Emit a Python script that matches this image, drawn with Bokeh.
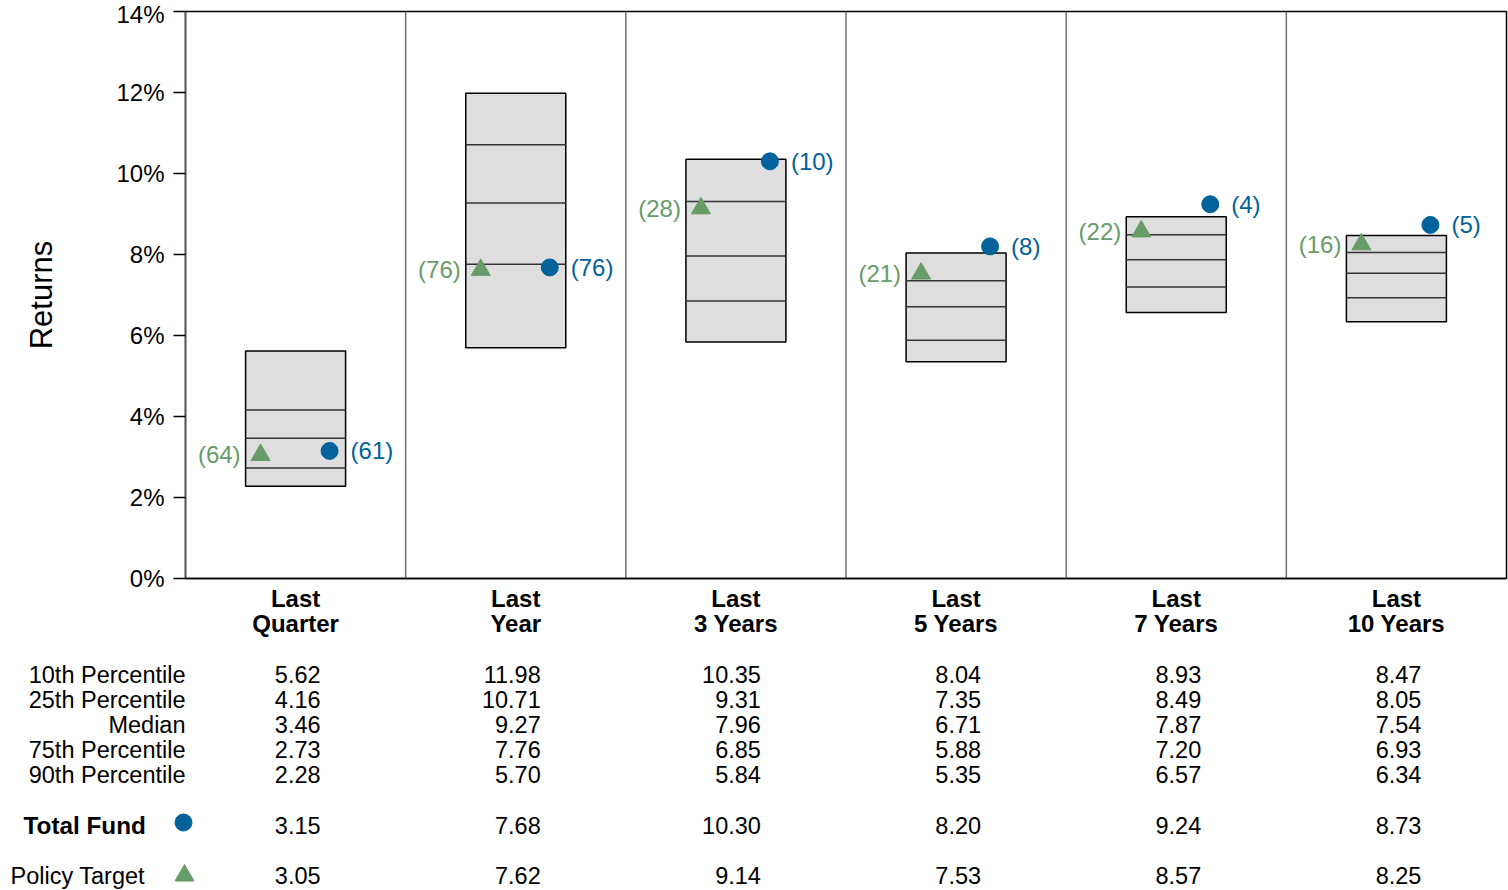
from bokeh.plotting import figure
from bokeh.models import Range1d, FixedTicker
from bokeh.layouts import column
from bokeh.embed import file_html
from bokeh.resources import INLINE
from bokeh.core.properties import value

# ---------------- data ----------------
categories = ["Last Quarter", "Last Year", "Last 3 Years", "Last 5 Years", "Last 7 Years", "Last 10 Years"]
p10 = [5.62, 11.98, 10.35, 8.04, 8.93, 8.47]
p25 = [4.16, 10.71, 9.31, 7.35, 8.49, 8.05]
median = [3.46, 9.27, 7.96, 6.71, 7.87, 7.54]
p75 = [2.73, 7.76, 6.85, 5.88, 7.20, 6.93]
p90 = [2.28, 5.70, 5.84, 5.35, 6.57, 6.34]
total_fund = [3.15, 7.68, 10.30, 8.20, 9.24, 8.73]
total_fund_rank = [61, 76, 10, 8, 4, 5]
policy_target = [3.05, 7.62, 9.14, 7.53, 8.57, 8.25]
policy_target_rank = [64, 76, 28, 21, 22, 16]
row_labels = ["10th Percentile", "25th Percentile", "Median", "75th Percentile", "90th Percentile"]
y_ticks = [0, 2, 4, 6, 8, 10, 12, 14]
y_tick_labels = ["0%", "2%", "4%", "6%", "8%", "10%", "12%", "14%"]

# ---------------- style / layout ----------------
FONTNAME = "Liberation Sans"
FONT = value(FONTNAME)
BLUE = "#00629B"
GREEN = "#679B67"
BOX_FILL = "#DEDEDE"

PAGE_M = 0
W = 1508
TOP_H = 645
BOT_H = 245
FRAME_L = 185
FRAME_R = 1506
FRAME_TOP = 11
FRAME_BOT = 578
BOT_TOP = PAGE_M + TOP_H

ncat = len(categories)
pxx = (FRAME_R - FRAME_L) / ncat
xc = [i + 0.5 for i in range(ncat)]


def px2x(page_x):
    return (page_x - FRAME_L) / pxx


def dx(px):
    return px / pxx


# ---------------- top chart ----------------
p = figure(width=W, height=TOP_H, x_range=Range1d(0, ncat), y_range=Range1d(y_ticks[0], y_ticks[-1]),
           output_backend="svg", toolbar_location=None,
           min_border_left=FRAME_L - PAGE_M, min_border_right=PAGE_M + W - FRAME_R,
           min_border_top=FRAME_TOP - PAGE_M, min_border_bottom=PAGE_M + TOP_H - FRAME_BOT)
p.grid.visible = False
p.outline_line_color = "black"
p.outline_line_width = 1.5
p.background_fill_color = "white"
p.border_fill_color = "white"

yax = p.yaxis[0]
yax.ticker = FixedTicker(ticks=y_ticks)
yax.major_label_overrides = dict(zip(y_ticks, y_tick_labels))
yax.major_label_text_font = FONTNAME
yax.major_label_text_font_size = "24px"
yax.major_label_text_color = "black"
yax.major_tick_out = 12
yax.major_tick_in = 0
yax.major_tick_line_color = "black"
yax.major_tick_line_width = 1.5
yax.minor_tick_line_color = None
yax.axis_line_color = "#555555"
yax.axis_line_width = 1.5
yax.major_label_standoff = 9
yax.axis_label = "Returns"
yax.axis_label_text_font = FONTNAME
yax.axis_label_text_font_size = "31px"
yax.axis_label_text_font_style = "normal"
yax.axis_label_text_color = "black"
yax.axis_label_standoff = 54

xax = p.xaxis[0]
xax.ticker = FixedTicker(ticks=xc)
xax.major_label_overrides = {c: name.replace(" ", "\n", 1) for c, name in zip(xc, categories)}
xax.major_label_text_font = FONTNAME
xax.major_label_text_font_size = "24px"
xax.major_label_text_font_style = "bold"
xax.major_label_text_color = "black"
xax.major_label_text_line_height = 0.96
xax.major_tick_line_color = None
xax.minor_tick_line_color = None
xax.major_tick_out = 0
xax.major_tick_in = 0
xax.axis_line_color = "black"
xax.axis_line_width = 1.5
xax.major_label_standoff = 6

# category separators
seps = list(range(1, ncat))
p.segment(x0=seps, y0=[y_ticks[0]] * len(seps), x1=seps, y1=[y_ticks[-1]] * len(seps),
          line_color="#6E6E6E", line_width=1.5)

# boxes
half = dx(50)
left = [c - half for c in xc]
right = [c + half for c in xc]
p.quad(left=left, right=right, top=p10, bottom=p90, fill_color=BOX_FILL,
       line_color="black", line_width=1.5)
for arr in (p25, median, p75):
    p.segment(x0=left, y0=arr, x1=right, y1=arr, line_color="#333333", line_width=1.5)

# markers
p.scatter(x=[c + dx(34) for c in xc], y=total_fund, marker="circle", size=17,
          fill_color=BLUE, line_color=BLUE)
p.scatter(x=[c - dx(35) for c in xc], y=policy_target, marker="triangle", size=19,
          fill_color=GREEN, line_color=GREEN)
p.text(x=[c + dx(55) for c in xc], y=total_fund, text=[f"({r})" for r in total_fund_rank],
       text_align="left", text_baseline="middle", text_font=FONT, text_font_size="24px",
       text_color=BLUE)
p.text(x=[c - dx(55) for c in xc], y=policy_target, text=[f"({r})" for r in policy_target_rank],
       text_align="right", text_baseline="middle", text_font=FONT, text_font_size="24px",
       text_color=GREEN)

# ---------------- table below ----------------
q = figure(width=W, height=BOT_H, x_range=Range1d(px2x(PAGE_M), px2x(PAGE_M + W)),
           y_range=Range1d(BOT_H, 0), output_backend="svg", toolbar_location=None,
           min_border=0, x_axis_location=None, y_axis_location=None)
q.grid.visible = False
q.outline_line_color = None
q.border_fill_color = "white"

for fig in (p, q):
    if "frame_align" in fig.properties():
        fig.frame_align = False

row_page_y = [674, 699, 724, 749, 774]
tf_page_y = 825
pt_page_y = 875

for lab, arr, py in zip(row_labels, (p10, p25, median, p75, p90), row_page_y):
    yy = py - BOT_TOP
    q.text(x=[px2x(FRAME_L)], y=[yy], text=[lab], text_align="right", text_baseline="middle",
           text_font=FONT, text_font_size="23.5px", text_color="black")
    q.text(x=[c + dx(25) for c in xc], y=[yy] * ncat, text=[f"{v:.2f}" for v in arr],
           text_align="right", text_baseline="middle", text_font=FONT, text_font_size="23.5px",
           text_color="black")

ytf = tf_page_y - BOT_TOP
q.text(x=[px2x(23)], y=[ytf], text=["Total Fund"], text_align="left", text_baseline="middle",
       text_font=FONT, text_font_size="24.3px", text_font_style="bold", text_color="black")
q.scatter(x=[px2x(183)], y=[ytf - 3], marker="circle", size=17, fill_color=BLUE, line_color=BLUE)
q.text(x=[c + dx(25) for c in xc], y=[ytf] * ncat, text=[f"{v:.2f}" for v in total_fund],
       text_align="right", text_baseline="middle", text_font=FONT, text_font_size="23.5px",
       text_color="black")

ypt = pt_page_y - BOT_TOP
q.text(x=[px2x(10)], y=[ypt], text=["Policy Target"], text_align="left", text_baseline="middle",
       text_font=FONT, text_font_size="23.5px", text_color="black")
q.scatter(x=[px2x(184)], y=[ypt], marker="triangle", size=19, fill_color=GREEN, line_color=GREEN)
q.text(x=[c + dx(25) for c in xc], y=[ypt] * ncat, text=[f"{v:.2f}" for v in policy_target],
       text_align="right", text_baseline="middle", text_font=FONT, text_font_size="23.5px",
       text_color="black")

layout = column(p, q, spacing=0)
open("out.html", "w").write(file_html(layout, INLINE))
